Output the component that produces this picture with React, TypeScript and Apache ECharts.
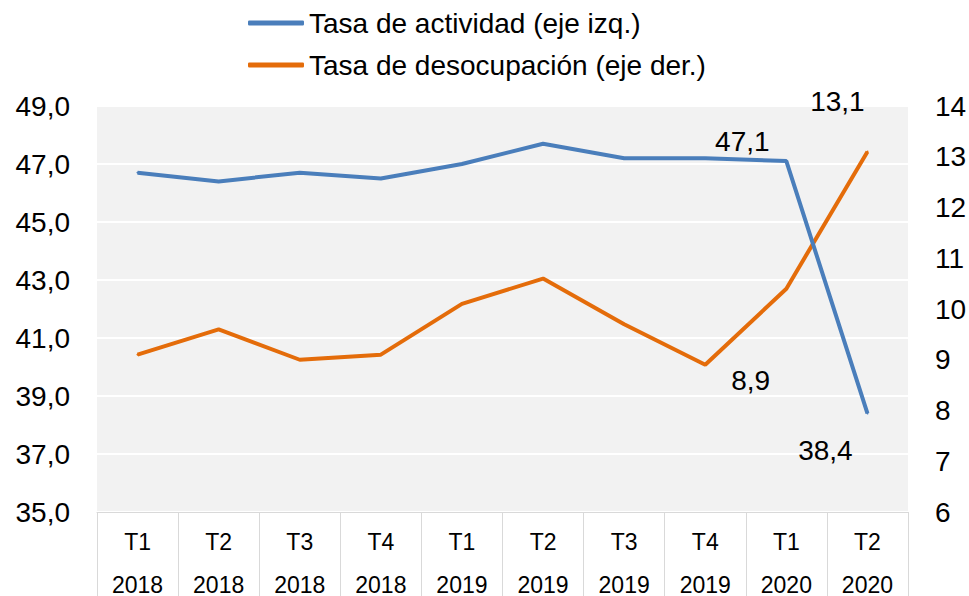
import React, { useEffect, useRef } from "react";
import * as echarts from "echarts";

const quarters = ["T1", "T2", "T3", "T4", "T1", "T2", "T3", "T4", "T1", "T2"];
const years = ["2018", "2018", "2018", "2018", "2019", "2019", "2019", "2019", "2020", "2020"];
const actividad = [46.7, 46.4, 46.7, 46.5, 47.0, 47.7, 47.2, 47.2, 47.1, 38.4];
const desocupacion = [9.1, 9.6, 9.0, 9.1, 10.1, 10.6, 9.7, 8.9, 10.4, 13.1];
const seriesNames = ["Tasa de actividad (eje izq.)", "Tasa de desocupación (eje der.)"];

const FONT = "'Liberation Sans', Arial, Helvetica, sans-serif";
const BLUE = "#4a7ebb";
const ORANGE = "#e46c0a";

const fmt = (v: number) => v.toFixed(1).replace(".", ",");

// label placements keyed by data index (style only)
const actLabels: Record<number, any> = {
  8: { position: "top", offset: [-44, 0] },
  9: { position: "bottom", offset: [-42, 17] },
};
const desLabels: Record<number, any> = {
  7: { position: "right", offset: [20, 16] },
  9: { position: "top", offset: [-30, -30] },
};

function buildData(values: number[], labels: Record<number, any>) {
  return values.map((v, i) =>
    labels[i]
      ? {
          value: v,
          label: {
            show: true,
            ...labels[i],
            formatter: (p: any) => fmt(p.value),
            fontSize: 28,
            color: "#000",
            fontFamily: FONT,
          },
        }
      : v
  );
}

export default function App() {
  const ref = useRef<HTMLDivElement>(null);
  useEffect(() => {
    if (!ref.current) return;
    const chart = echarts.init(ref.current, undefined, { renderer: "svg", width: 969, height: 596 });
    chart.setOption({
      animation: false,
      textStyle: { fontFamily: FONT },
      legend: {
        orient: "vertical",
        left: 243,
        top: 3,
        itemWidth: 56,
        itemHeight: 5,
        itemGap: 12,
        icon: "roundRect",
        textStyle: { fontSize: 28, color: "#000", fontFamily: FONT, lineHeight: 30 },
        data: seriesNames,
      },
      grid: {
        left: 97,
        right: 61,
        top: 106,
        bottom: 84,
        containLabel: false,
        outerBoundsMode: "none",
        show: true,
        backgroundColor: "#f2f2f2",
        borderWidth: 0,
      },
      xAxis: {
        type: "category",
        data: quarters.map((q, i) => q + "\n" + years[i]),
        boundaryGap: true,
        axisLine: { show: true, lineStyle: { color: "#d9d9d9", width: 1 } },
        axisTick: {
          show: true,
          interval: 0,
          length: 84,
          lineStyle: { color: "#d9d9d9", width: 1 },
        },
        axisLabel: {
          interval: 0,
          fontSize: 23,
          color: "#000",
          fontFamily: FONT,
          lineHeight: 43,
          margin: 8,
        },
      },
      yAxis: [
        {
          type: "value",
          min: 35,
          max: 49,
          interval: 2,
          position: "left",
          axisLine: { show: false },
          axisTick: { show: false },
          splitLine: { show: true, lineStyle: { color: "#ffffff", width: 2 } },
          axisLabel: {
            formatter: (v: number) => fmt(v),
            fontSize: 28,
            color: "#000",
            fontFamily: FONT,
            margin: 27,
          },
        },
        {
          type: "value",
          min: 6,
          max: 14,
          interval: 1,
          position: "right",
          axisLine: { show: false },
          axisTick: { show: false },
          splitLine: { show: false },
          axisLabel: {
            fontSize: 28,
            color: "#000",
            fontFamily: FONT,
            margin: 27,
          },
        },
      ],
      series: [
        {
          name: seriesNames[0],
          type: "line",
          yAxisIndex: 0,
          data: buildData(actividad, actLabels),
          symbol: "circle",
          symbolSize: 2,
          itemStyle: { color: BLUE },
          lineStyle: { color: BLUE, width: 4 },
          z: 3,
        },
        {
          name: seriesNames[1],
          type: "line",
          yAxisIndex: 1,
          data: buildData(desocupacion, desLabels),
          symbol: "circle",
          symbolSize: 2,
          itemStyle: { color: ORANGE },
          lineStyle: { color: ORANGE, width: 4 },
          z: 2,
        },
      ],
    });
    return () => chart.dispose();
  }, []);
  return (
    <div
      ref={ref}
      style={{ position: "fixed", left: 0, top: 0, width: 969, height: 596, background: "#fff" }}
    />
  );
}
